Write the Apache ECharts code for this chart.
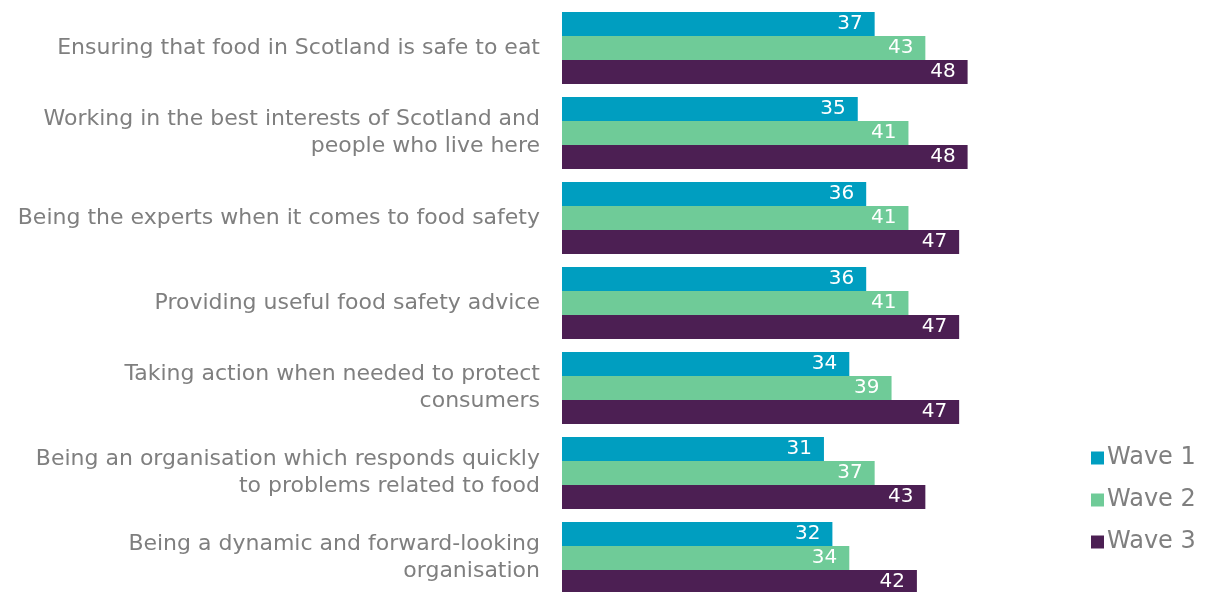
<!DOCTYPE html>
<html>
<head>
<meta charset="utf-8">
<script src="https://cdn.jsdelivr.net/npm/echarts@6/dist/echarts.min.js"></script>
<style>
  html, body { margin: 0; padding: 0; background: #fff; }
  #chart { width: 1214px; height: 592px; }
</style>
</head>
<body>
<div id="chart"></div>
<script>
// Statements about the organisation, listed top to bottom
const categories = [
  'Ensuring that food in Scotland is safe to eat',
  'Working in the best interests of Scotland and\npeople who live here',
  'Being the experts when it comes to food safety',
  'Providing useful food safety advice',
  'Taking action when needed to protect\nconsumers',
  'Being an organisation which responds quickly\nto problems related to food',
  'Being a dynamic and forward-looking\norganisation'
];
const seriesNames = ['Wave 1', 'Wave 2', 'Wave 3'];
const wave1 = [37, 35, 36, 36, 34, 31, 32];
const wave2 = [43, 41, 41, 41, 39, 37, 34];
const wave3 = [48, 48, 47, 47, 47, 43, 42];
const colors = ['#009EC0', '#6FCB98', '#4C1F53'];

const FONT = 'DejaVu Sans';
const chart = echarts.init(document.getElementById('chart'));

const makeSeries = (name, data, color) => ({
  name,
  type: 'bar',
  data,
  barWidth: 24,
  barGap: '0%',
  itemStyle: { color },
  label: {
    show: true,
    position: 'insideRight',
    distance: 12,
    color: '#ffffff',
    fontFamily: FONT,
    fontSize: 20
  },
  animation: false
});

chart.setOption({
  animation: false,
  // the last group runs slightly past the bottom edge
  grid: {
    left: 562, top: 5.5, right: 145, bottom: -8.5,
    containLabel: false,
    outerBoundsMode: 'none'
  },
  xAxis: {
    type: 'value',
    min: 0,
    max: 60,
    show: false
  },
  yAxis: {
    type: 'category',
    inverse: true,
    data: categories,
    axisLine: { show: false },
    axisTick: { show: false },
    axisLabel: {
      margin: 22,
      color: '#7F7F7F',
      fontFamily: FONT,
      fontSize: 22,
      lineHeight: 27,
      align: 'right'
    }
  },
  legend: {
    orient: 'vertical',
    left: 1086,
    top: 441,
    itemWidth: 13,
    itemHeight: 13,
    itemGap: 18,
    icon: 'rect',
    textStyle: { color: '#7F7F7F', fontFamily: FONT, fontSize: 24, padding: [0, 0, 0, -2] },
    data: seriesNames
  },
  series: [
    makeSeries(seriesNames[0], wave1, colors[0]),
    makeSeries(seriesNames[1], wave2, colors[1]),
    makeSeries(seriesNames[2], wave3, colors[2])
  ]
});
</script>
</body>
</html>
